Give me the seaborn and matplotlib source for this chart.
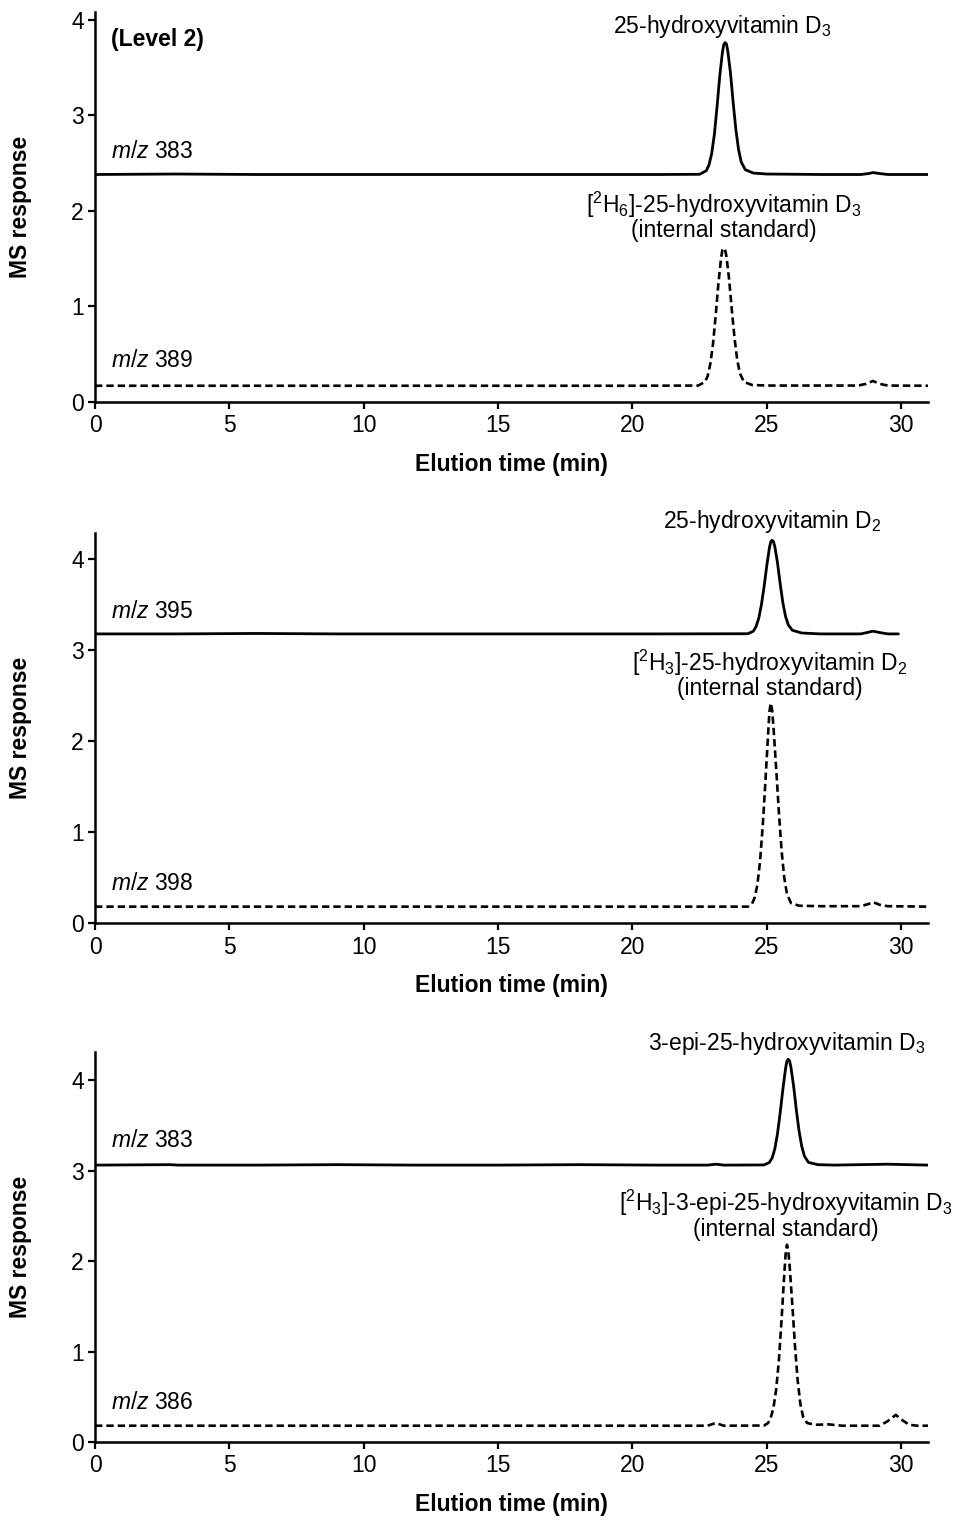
import matplotlib
matplotlib.use("Agg")
import matplotlib.pyplot as plt
import seaborn as sns
import pandas as pd

# ---------------- data ----------------
p1_solid_t = [0, 3, 6, 9, 12, 15, 18, 21, 22.5, 22.75, 22.85, 22.95, 23.05, 23.15, 23.25, 23.35, 23.4, 23.45,
              23.5, 23.55, 23.65, 23.75, 23.85, 23.95, 24.05, 24.2, 24.5, 25, 27, 28.5, 28.8, 28.95, 29.2, 29.5, 31]
p1_solid_y = [2.38, 2.385, 2.38, 2.38, 2.38, 2.38, 2.38, 2.38, 2.382, 2.42, 2.48, 2.60, 2.80, 3.09, 3.41, 3.66, 3.74, 3.76,
              3.745, 3.67, 3.44, 3.13, 2.85, 2.64, 2.51, 2.43, 2.395, 2.385, 2.38, 2.38, 2.39, 2.40, 2.39, 2.38, 2.38]

p1_dash_t = [0, 5, 10, 15, 20, 22.45, 22.7, 22.8, 22.9, 23.0, 23.1, 23.2, 23.3, 23.35, 23.4, 23.45, 23.5, 23.6, 23.7,
             23.8, 23.9, 24.0, 24.15, 24.45, 25, 28.4, 28.7, 28.95, 29.2, 29.5, 31]
p1_dash_y = [0.17, 0.17, 0.17, 0.17, 0.17, 0.172, 0.21, 0.27, 0.40, 0.61, 0.91, 1.24, 1.51, 1.59, 1.61, 1.595, 1.52, 1.28, 0.96,
             0.67, 0.44, 0.30, 0.21, 0.178, 0.172, 0.172, 0.19, 0.22, 0.19, 0.172, 0.17]

p2_solid_t = [0, 3, 6, 9, 12, 15, 18, 21, 24.3, 24.5, 24.6, 24.7, 24.8, 24.9, 25.0, 25.1, 25.15, 25.2, 25.25, 25.3, 25.4,
              25.5, 25.6, 25.7, 25.8, 25.95, 26.3, 27, 28.5, 28.8, 28.95, 29.2, 29.5, 29.9]
p2_solid_y = [3.18, 3.18, 3.185, 3.18, 3.18, 3.18, 3.18, 3.18, 3.182, 3.21, 3.26, 3.35, 3.50, 3.70, 3.93, 4.13, 4.195, 4.21, 4.195,
              4.14, 3.96, 3.73, 3.52, 3.37, 3.28, 3.22, 3.19, 3.18, 3.18, 3.20, 3.21, 3.195, 3.18, 3.18]

p2_dash_t = [0, 5, 10, 15, 20, 24.3, 24.45, 24.55, 24.65, 24.75, 24.85, 24.95, 25.05, 25.1, 25.15, 25.2, 25.25, 25.35,
             25.45, 25.55, 25.65, 25.75, 25.9, 26.2, 27, 28.5, 28.8, 28.95, 29.2, 29.5, 31]
p2_dash_y = [0.18, 0.18, 0.18, 0.18, 0.18, 0.18, 0.21, 0.28, 0.42, 0.68, 1.07, 1.56, 2.08, 2.33, 2.42, 2.34, 2.15, 1.70,
             1.22, 0.80, 0.50, 0.32, 0.22, 0.19, 0.185, 0.185, 0.21, 0.23, 0.20, 0.185, 0.18]

p3_solid_t = [0, 2.8, 3.1, 6, 9, 12, 15, 18, 21, 22.8, 23.1, 23.4, 24.9, 25.1, 25.2, 25.3, 25.4, 25.5, 25.6,
              25.7, 25.75, 25.8, 25.85, 25.9, 26.0, 26.1, 26.2, 26.3, 26.4, 26.55, 26.9, 27.5, 29.5, 31]
p3_solid_y = [3.06, 3.065, 3.06, 3.06, 3.065, 3.06, 3.06, 3.065, 3.06, 3.06, 3.07, 3.06, 3.062, 3.09, 3.14, 3.24,
              3.41, 3.64, 3.90, 4.13, 4.21, 4.23, 4.21, 4.14, 3.93, 3.67, 3.44, 3.27, 3.16, 3.09, 3.065, 3.06, 3.07, 3.06]

p3_dash_t = [0, 5, 10, 15, 20, 22.8, 23.1, 23.4, 24.9, 25.05, 25.15, 25.25, 25.35, 25.45, 25.55, 25.65, 25.7, 25.75,
             25.8, 25.85, 25.95, 26.05, 26.15, 26.25, 26.35, 26.5, 26.8, 27.3, 27.8, 29.2, 29.5, 29.8, 30.05, 30.3, 30.6, 31]
p3_dash_y = [0.18, 0.18, 0.18, 0.18, 0.18, 0.18, 0.21, 0.18, 0.182, 0.21, 0.27, 0.38, 0.58, 0.90, 1.35, 1.85, 2.07, 2.18,
             2.12, 1.95, 1.52, 1.06, 0.68, 0.42, 0.28, 0.21, 0.19, 0.195, 0.18, 0.18, 0.23, 0.30, 0.24, 0.19, 0.18, 0.18]

x_ticks = [0, 5, 10, 15, 20, 25, 30]
y_ticks = [0, 1, 2, 3, 4]

panels = [
    dict(solid=(p1_solid_t, p1_solid_y), dash=(p1_dash_t, p1_dash_y), ymax=4.08,
         mz_top="383", mz_top_y=2.5, mz_bot="389", mz_bot_y=0.31,
         lab_top="25-hydroxyvitamin D$_3$", lab_top_xy=(23.35, 3.79),
         lab_bot="[$^2$H$_6$]-25-hydroxyvitamin D$_3$\n(internal standard)", lab_bot_xy=(23.4, 1.67),
         level=True),
    dict(solid=(p2_solid_t, p2_solid_y), dash=(p2_dash_t, p2_dash_y), ymax=4.29,
         mz_top="395", mz_top_y=3.3, mz_bot="398", mz_bot_y=0.31,
         lab_top="25-hydroxyvitamin D$_2$", lab_top_xy=(25.2, 4.27),
         lab_bot="[$^2$H$_3$]-25-hydroxyvitamin D$_2$\n(internal standard)", lab_bot_xy=(25.1, 2.45),
         level=False),
    dict(solid=(p3_solid_t, p3_solid_y), dash=(p3_dash_t, p3_dash_y), ymax=4.31,
         mz_top="383", mz_top_y=3.2, mz_bot="386", mz_bot_y=0.31,
         lab_top="3-epi-25-hydroxyvitamin D$_3$", lab_top_xy=(25.75, 4.25),
         lab_bot="[$^2$H$_3$]-3-epi-25-hydroxyvitamin D$_3$\n(internal standard)", lab_bot_xy=(25.7, 2.22),
         level=False),
]

# ---------------- style ----------------
sns.set_style("ticks")
plt.rcParams["font.family"] = ["Liberation Sans", "DejaVu Sans"]
plt.rcParams["mathtext.fontset"] = "custom"
plt.rcParams["mathtext.rm"] = "Liberation Sans"
plt.rcParams["mathtext.it"] = "Liberation Sans:italic"
plt.rcParams["mathtext.bf"] = "Liberation Sans:bold"
plt.rcParams["text.color"] = "black"
plt.rcParams["axes.labelcolor"] = "black"
FS = 16.5

fig = plt.figure(figsize=(9.56, 15.2), dpi=100)
W, H = 956, 1520
boxes = [(95, 12, 928, 402), (95, 533, 928, 923), (95, 1052, 928, 1442)]

for box, p in zip(boxes, panels):
    l, t, r, b = box
    ax = fig.add_axes([l / W, 1 - b / H, (r - l) / W, (b - t) / H])
    ds = pd.DataFrame({"t": p["solid"][0], "y": p["solid"][1]})
    dd = pd.DataFrame({"t": p["dash"][0], "y": p["dash"][1]})
    sns.lineplot(data=ds, x="t", y="y", ax=ax, color="black", lw=2.0,
                 estimator=None, sort=False, errorbar=None)
    sns.lineplot(data=dd, x="t", y="y", ax=ax, color="black", lw=1.9,
                 estimator=None, sort=False, errorbar=None, linestyle=(0, (2.8, 1.5)))
    ax.set_xlim(0, 31)
    ax.set_ylim(0, p["ymax"])
    ax.set_xticks(x_ticks)
    ax.set_yticks(y_ticks)
    ax.tick_params(axis="both", labelsize=FS, width=1.6, length=5, color="black", labelcolor="black")
    ax.tick_params(axis="x", pad=4)
    ax.tick_params(axis="y", pad=3)
    for s in ["top", "right"]:
        ax.spines[s].set_visible(False)
    for s in ["left", "bottom"]:
        ax.spines[s].set_linewidth(1.8)
        ax.spines[s].set_color("black")
    ax.set_xlabel("Elution time (min)", fontsize=FS, fontweight="bold")
    ax.set_ylabel("MS response", fontsize=FS, fontweight="bold")
    ax.xaxis.set_label_coords(0.5, -0.13)
    ax.yaxis.set_label_coords(-0.076, 0.5)

    ax.text(0.6, p["mz_top_y"], "$m/z$ " + p["mz_top"], fontsize=FS, va="bottom", ha="left")
    ax.text(0.6, p["mz_bot_y"], "$m/z$ " + p["mz_bot"], fontsize=FS, va="bottom", ha="left")
    ax.text(p["lab_top_xy"][0], p["lab_top_xy"][1], p["lab_top"], fontsize=FS,
            ha="center", va="bottom", clip_on=False)
    ax.text(p["lab_bot_xy"][0], p["lab_bot_xy"][1], p["lab_bot"], fontsize=FS,
            ha="center", va="bottom", multialignment="center", linespacing=0.98, clip_on=False)
    if p["level"]:
        ax.text(0.6, 3.79, "(Level 2)", fontsize=FS, fontweight="bold", ha="left", va="center")

fig.savefig("out.png", dpi=100)
